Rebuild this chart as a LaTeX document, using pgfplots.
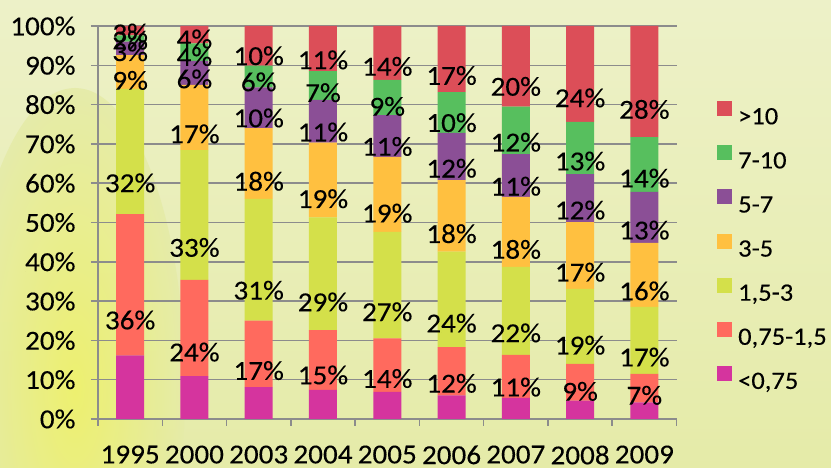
\documentclass[border=0pt]{standalone}
\usepackage{pgfplots}
\pgfplotsset{compat=1.18}
\usepackage{pgfplotstable}
\usepackage{fontspec}
\setmainfont{Carlito}[FakeStretch=1.06, FakeBold=0.2]
\definecolor{cA}{RGB}{213,52,158}
\definecolor{cB}{RGB}{255,106,94}
\definecolor{cC}{RGB}{212,224,74}
\definecolor{cD}{RGB}{255,192,64}
\definecolor{cE}{RGB}{139,79,150}
\definecolor{cF}{RGB}{87,191,94}
\definecolor{cG}{RGB}{220,78,88}
\definecolor{gridc}{RGB}{140,140,140}
\definecolor{bgtop}{RGB}{237,241,200}
\definecolor{bgbot}{RGB}{229,235,168}
\definecolor{bgyel}{RGB}{238,241,105}
\newcommand{\bigf}{\fontsize{27.5}{31}\selectfont}
\newcommand{\legf}{\fontsize{25}{29}\selectfont}

% x, <0.75, 0.75-1.5, 1.5-3, 3-5, 5-7, 7-10, >10 and the printed labels
\pgfplotstableread{
x a b lb c lc d ld e le f lf g lg
0 16.2 35.9 36 31.9 32 8.6 9 3.4 3 1.6 2 2.4 3
1 10.9 24.5 24 33.0 33 16.6 17 6.1 6 4.5 4 4.4 4
2 8.1 16.9 17 31.0 31 18.0 18 10.4 10 5.5 6 10.1 10
3 7.4 15.2 15 28.7 29 19.0 19 10.9 11 7.3 7 11.5 11
4 6.9 13.6 14 27.1 27 19.1 19 10.6 11 9.0 9 13.7 14
5 6.0 12.3 12 24.3 24 18.2 18 12.0 12 10.4 10 16.8 17
6 5.4 10.9 11 22.4 22 17.8 18 10.9 11 12.1 12 20.5 20
7 4.7 9.3 9 19.1 19 17.0 17 12.2 12 13.3 13 24.4 24
8 4.2 7.3 7 17.0 17 16.3 16 13.0 13 13.9 14 28.3 28
}\data

\begin{document}
\begin{tikzpicture}
\useasboundingbox (0pt,0pt) rectangle (831pt,468pt);
\shade[top color=bgtop, bottom color=bgbot] (0pt,0pt) rectangle (831pt,468pt);
\begin{scope}
\clip (0pt,0pt) rectangle (831pt,468pt);
\shade[inner color=bgyel, outer color=bgbot, opacity=0.9] (75pt,80pt) ellipse (110pt and 300pt);
\end{scope}
\begin{axis}[
  at={(98pt,49pt)}, anchor=south west,
  scale only axis, width=578.5pt, height=393pt,
  ybar stacked, bar width=28pt,
  xmin=-0.5, xmax=8.5, ymin=0, ymax=100,
  clip=false,
  axis lines*=left,
  axis line style={draw=gridc, line width=1.5pt},
  ymajorgrids, grid style={draw=gridc, line width=1.5pt},
  tick align=outside,
  major tick length=7pt,
  tick style={draw=gridc, line width=1.5pt},
  xtick={-0.5,0.5,...,8.5},
  xticklabels={},
  extra x ticks={0,1,2,3,4,5,6,7,8},
  extra x tick labels={1995,2000,2003,2004,2005,2006,2007,2008,2009},
  extra x tick style={major tick length=0pt, xticklabel style={yshift=-23pt}},
  ytick={0,10,...,100},
  yticklabels={0\%,10\%,20\%,30\%,40\%,50\%,60\%,70\%,80\%,90\%,100\%},
  tick label style={font=\bigf, text=black},
  yticklabel style={xshift=-12pt},
  visualization depends on={rawy \as \rawy},
  every node near coord/.append style={anchor=center, yshift=-\rawy*0.9825pt, font=\bigf, text=black},
  nodes near coords={\pgfplotspointmeta\%},
  point meta=explicit symbolic,
  reverse legend,
  legend image code/.code={\fill[#1] (0pt,1pt) rectangle (15pt,16pt); \path (21pt,0pt);},
  legend style={at={(1.0648,0.814)}, anchor=north west, draw=none, fill=none,
    font=\legf, row sep=17.1pt, legend cell align=left,
    nodes={inner sep=0pt, text height=18pt, text depth=4pt}},
]
\addplot+[fill=cA, draw=none, nodes near coords={}] table[x=x, y=a, meta=lb] {\data};
\addplot+[fill=cB, draw=none] table[x=x, y=b, meta=lb] {\data};
\addplot+[fill=cC, draw=none] table[x=x, y=c, meta=lc] {\data};
\addplot+[fill=cD, draw=none] table[x=x, y=d, meta=ld] {\data};
\addplot+[fill=cE, draw=none] table[x=x, y=e, meta=le] {\data};
\addplot+[fill=cF, draw=none] table[x=x, y=f, meta=lf] {\data};
\addplot+[fill=cG, draw=none] table[x=x, y=g, meta=lg] {\data};
\legend{{<0,75},{0,75-1,5},{1,5-3},{3-5},{5-7},{7-10},{>10}}
\end{axis}
\end{tikzpicture}
\end{document}
